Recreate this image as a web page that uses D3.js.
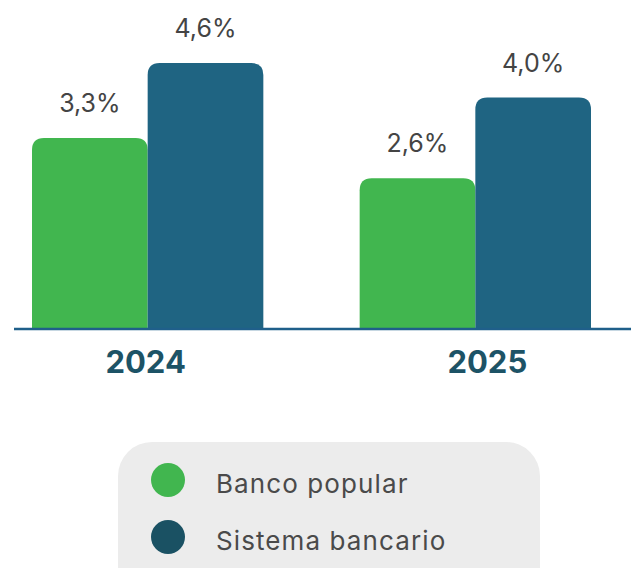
<!DOCTYPE html>
<head>
  <meta charset="utf-8">
  <title>Banco popular vs Sistema bancario</title>
  <script src="https://cdn.jsdelivr.net/npm/d3@7"></script>
  <style>
    body { margin: 0; background: white; }
    text { font-family: Inter, "Open Sans", sans-serif; }
  </style>
</head>
<body>
<script>
// data
const years = ['2024', '2025']
const series = ['Banco popular', 'Sistema bancario']
const bancoPopular = [3.3, 2.6]
const sistemaBancario = [4.6, 4.0]
const barColors = ['#41b64f', '#1f6482']
const legendColors = ['#41b64f', '#1a5163']

const width = 631, height = 568
const baseY = 328

const svg = d3.select('body').append('svg')
  .attr('width', width)
  .attr('height', height)

const x0 = d3.scaleBand().domain(years).range([32, 591]).paddingInner(0.294)
const x1 = d3.scaleBand().domain(series).range([0, x0.bandwidth()])
const y = d3.scaleLinear().domain([0, 4.6]).range([baseY, 63])

const rows = years.map((yr, i) => ({
  year: yr,
  values: [bancoPopular[i], sistemaBancario[i]]
}))

// bar with rounded top corners only
function topRounded(x, yTop, w, h, r) {
  return `M${x},${yTop + h}V${yTop + r}Q${x},${yTop} ${x + r},${yTop}` +
    `H${x + w - r}Q${x + w},${yTop} ${x + w},${yTop + r}V${yTop + h}Z`
}

const groups = svg.selectAll('g.year')
  .data(rows)
  .enter().append('g')
  .attr('class', 'year')
  .attr('transform', d => `translate(${x0(d.year)},0)`)

groups.selectAll('path')
  .data(d => d.values.map((v, i) => ({ key: series[i], v, i })))
  .enter().append('path')
  .attr('d', d => topRounded(x1(d.key), y(d.v), x1.bandwidth(), baseY - y(d.v), 12))
  .attr('fill', d => barColors[d.i])

groups.selectAll('text.val')
  .data(d => d.values.map((v, i) => ({ key: series[i], v })))
  .enter().append('text')
  .attr('class', 'val')
  .attr('x', d => x1(d.key) + x1.bandwidth() / 2)
  .attr('y', d => y(d.v) - 26)
  .attr('text-anchor', 'middle')
  .attr('font-size', 25)
  .attr('fill', '#444')
  .text(d => d3.format('.1f')(d.v).replace('.', ',') + '%')

// baseline
svg.append('line')
  .attr('x1', 14).attr('x2', width)
  .attr('y1', baseY + 1).attr('y2', baseY + 1)
  .attr('stroke', '#1f5f8a')
  .attr('stroke-width', 2.5)

// year labels
svg.selectAll('text.yr')
  .data(years)
  .enter().append('text')
  .attr('class', 'yr')
  .attr('x', d => x0(d) + x0.bandwidth() / 2 + (d === '2025' ? 12 : -2))
  .attr('y', 373)
  .attr('text-anchor', 'middle')
  .attr('font-size', 31)
  .attr('font-weight', 'bold')
  .attr('fill', '#1d5366')
  .text(d => d)

// legend
svg.append('rect')
  .attr('x', 118).attr('y', 442)
  .attr('width', 422).attr('height', 160)
  .attr('rx', 34)
  .attr('fill', '#ececec')

const item = svg.selectAll('g.leg')
  .data(series)
  .enter().append('g')
  .attr('class', 'leg')
  .attr('transform', (d, i) => `translate(168,${480 + i * 57})`)

item.append('circle')
  .attr('r', 17)
  .attr('fill', (d, i) => legendColors[i])

item.append('text')
  .attr('x', 48)
  .attr('y', 13)
  .attr('font-size', 26)
  .attr('letter-spacing', 1.1)
  .attr('fill', '#4a4a4a')
  .text(d => d)
</script>
</body>
